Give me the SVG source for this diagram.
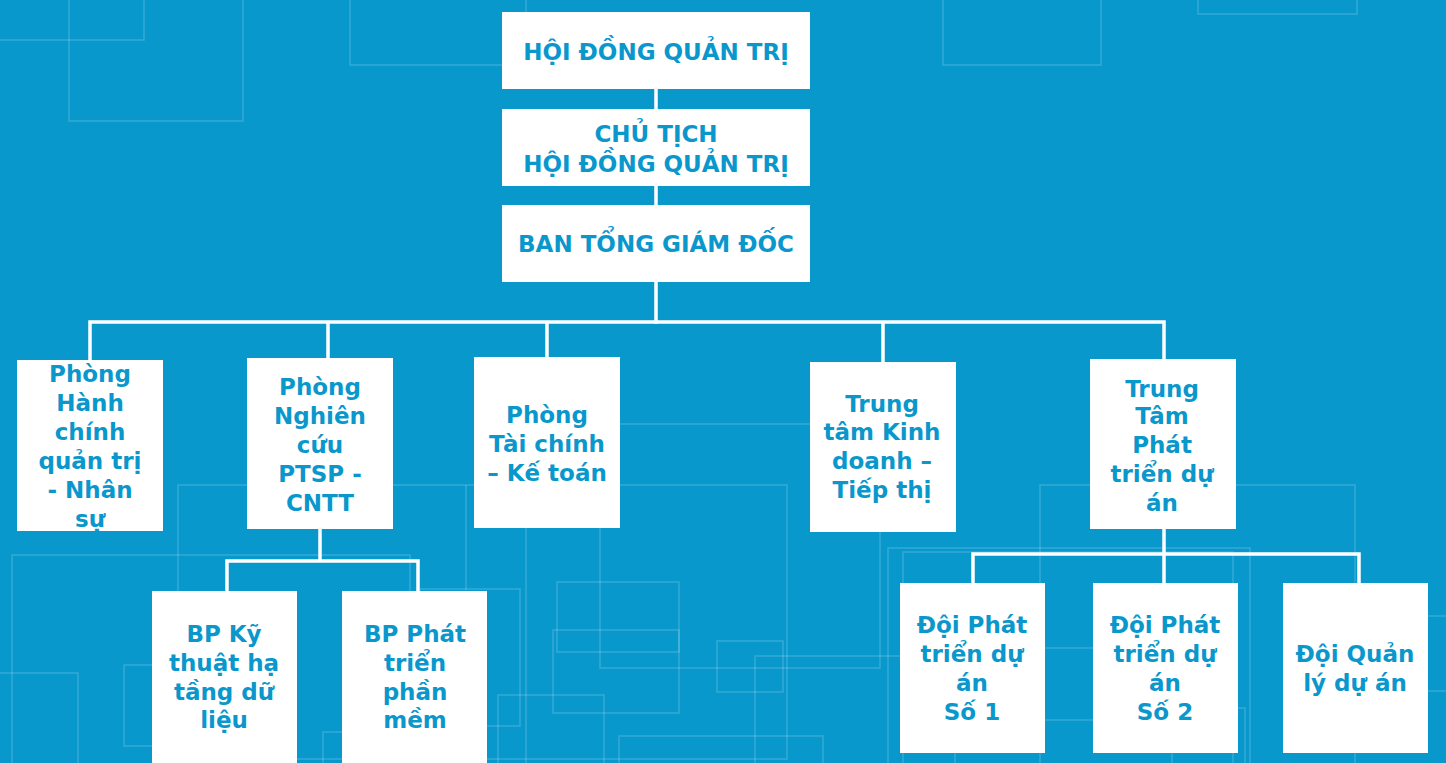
<svg xmlns="http://www.w3.org/2000/svg" width="1446" height="763" viewBox="0 0 1446 763">
<style>
.deco{fill:none;stroke:#ffffff;stroke-opacity:0.17;stroke-width:1.6}
.box{fill:#ffffff}
.t{font-family:"DejaVu Sans","Noto Sans",sans-serif;font-weight:700;fill:#0a97cc;text-anchor:middle}
.top{font-size:23px}
.n{font-size:23px}
.wire{fill:none;stroke:#ffffff;stroke-width:3.5;stroke-linecap:square}
</style>
<rect x="0" y="0" width="1446" height="763" fill="#0898cc"/>
<g id="decor">
<rect class="deco" x="-10" y="-10" width="154" height="50"/>
<rect class="deco" x="69" y="-10" width="174" height="131"/>
<rect class="deco" x="350" y="-10" width="176" height="75"/>
<rect class="deco" x="943" y="-10" width="158" height="75"/>
<rect class="deco" x="1198" y="-10" width="159" height="24"/>
<rect class="deco" x="12" y="555" width="398" height="230"/>
<rect class="deco" x="178" y="485" width="609" height="274"/>
<path class="deco" d="M466 485 V590"/>
<rect class="deco" x="420" y="589" width="100" height="137"/>
<rect class="deco" x="-10" y="673" width="88" height="120"/>
<rect class="deco" x="124" y="665" width="80" height="81"/>
<rect class="deco" x="323" y="732" width="60" height="60"/>
<rect class="deco" x="600" y="424" width="280" height="244"/>
<path class="deco" d="M526 500 V763"/>
<rect class="deco" x="557" y="582" width="122" height="70"/>
<rect class="deco" x="553" y="630" width="126" height="83"/>
<rect class="deco" x="717" y="641" width="66" height="51"/>
<rect class="deco" x="755" y="656" width="200" height="140"/>
<rect class="deco" x="498" y="695" width="106" height="100"/>
<rect class="deco" x="619" y="736" width="204" height="60"/>
<rect class="deco" x="888" y="548" width="362" height="240"/>
<rect class="deco" x="903" y="552" width="330" height="240"/>
<rect class="deco" x="1040" y="485" width="315" height="290"/>
<rect class="deco" x="1000" y="648" width="150" height="72"/>
<rect class="deco" x="1172" y="708" width="73" height="80"/>
<rect class="deco" x="1400" y="616" width="60" height="75"/>
</g>
<g id="connectors">
<path class="wire" d="M656 89 V109 M656 186 V205 M656 282 V322"/>
<path class="wire" d="M90 322 H1164 M90 322 V360 M328 322 V358 M547 322 V357 M883 322 V362 M1164 322 V359"/>
<path class="wire" d="M320 529 V561 M227 561 H418 M227 561 V591 M418 561 V591"/>
<path class="wire" d="M1164 529 V583 M973 554 H1359 M973 554 V583 M1359 554 V583"/>
</g>
<g id="hdqt">
<rect class="box" x="502" y="12" width="308" height="77"/>
<text class="t top" x="656" y="60">HỘI ĐỒNG QUẢN TRỊ</text>
</g>
<g id="chutich">
<rect class="box" x="502" y="109" width="308" height="77"/>
<text class="t top" x="656" y="142">CHỦ TỊCH</text>
<text class="t top" x="656" y="172">HỘI ĐỒNG QUẢN TRỊ</text>
</g>
<g id="btgd">
<rect class="box" x="502" y="205" width="308" height="77"/>
<text class="t top" x="656" y="252">BAN TỔNG GIÁM ĐỐC</text>
</g>
<g id="phong-hc">
<rect class="box" x="17" y="360" width="146" height="171"/>
<text class="t n" x="90" y="382">Phòng</text>
<text class="t n" x="90" y="411">Hành</text>
<text class="t n" x="90" y="440">chính</text>
<text class="t n" x="90" y="469">quản trị</text>
<text class="t n" x="90" y="498">- Nhân</text>
<text class="t n" x="90" y="527">sự</text>
</g>
<g id="phong-nc">
<rect class="box" x="247" y="358" width="146" height="171"/>
<text class="t n" x="320" y="395">Phòng</text>
<text class="t n" x="320" y="424">Nghiên</text>
<text class="t n" x="320" y="453">cứu</text>
<text class="t n" x="320" y="482">PTSP -</text>
<text class="t n" x="320" y="511">CNTT</text>
</g>
<g id="phong-tc">
<rect class="box" x="474" y="357" width="146" height="171"/>
<text class="t n" x="547" y="423">Phòng</text>
<text class="t n" x="547" y="452">Tài chính</text>
<text class="t n" x="547" y="481">– Kế toán</text>
</g>
<g id="tt-kd">
<rect class="box" x="810" y="362" width="146" height="170"/>
<text class="t n" x="882" y="412">Trung</text>
<text class="t n" x="882" y="440">tâm Kinh</text>
<text class="t n" x="882" y="469">doanh –</text>
<text class="t n" x="882" y="498">Tiếp thị</text>
</g>
<g id="tt-ptda">
<rect class="box" x="1090" y="359" width="146" height="170"/>
<text class="t n" x="1162" y="397">Trung</text>
<text class="t n" x="1162" y="424">Tâm</text>
<text class="t n" x="1162" y="453">Phát</text>
<text class="t n" x="1162" y="482">triển dự</text>
<text class="t n" x="1162" y="511">án</text>
</g>
<g id="bp-kt">
<rect class="box" x="152" y="591" width="145" height="180"/>
<text class="t n" x="224" y="642">BP Kỹ</text>
<text class="t n" x="224" y="671">thuật hạ</text>
<text class="t n" x="224" y="700">tầng dữ</text>
<text class="t n" x="224" y="728">liệu</text>
</g>
<g id="bp-pt">
<rect class="box" x="342" y="591" width="145" height="180"/>
<text class="t n" x="415" y="642">BP Phát</text>
<text class="t n" x="415" y="671">triển</text>
<text class="t n" x="415" y="700">phần</text>
<text class="t n" x="415" y="728">mềm</text>
</g>
<g id="doi-1">
<rect class="box" x="900" y="583" width="145" height="170"/>
<text class="t n" x="972" y="633">Đội Phát</text>
<text class="t n" x="972" y="662">triển dự</text>
<text class="t n" x="972" y="691">án</text>
<text class="t n" x="972" y="720">Số 1</text>
</g>
<g id="doi-2">
<rect class="box" x="1093" y="583" width="145" height="170"/>
<text class="t n" x="1165" y="633">Đội Phát</text>
<text class="t n" x="1165" y="662">triển dự</text>
<text class="t n" x="1165" y="691">án</text>
<text class="t n" x="1165" y="720">Số 2</text>
</g>
<g id="doi-ql">
<rect class="box" x="1283" y="583" width="145" height="170"/>
<text class="t n" x="1355" y="662">Đội Quản</text>
<text class="t n" x="1355" y="691">lý dự án</text>
</g>
</svg>
